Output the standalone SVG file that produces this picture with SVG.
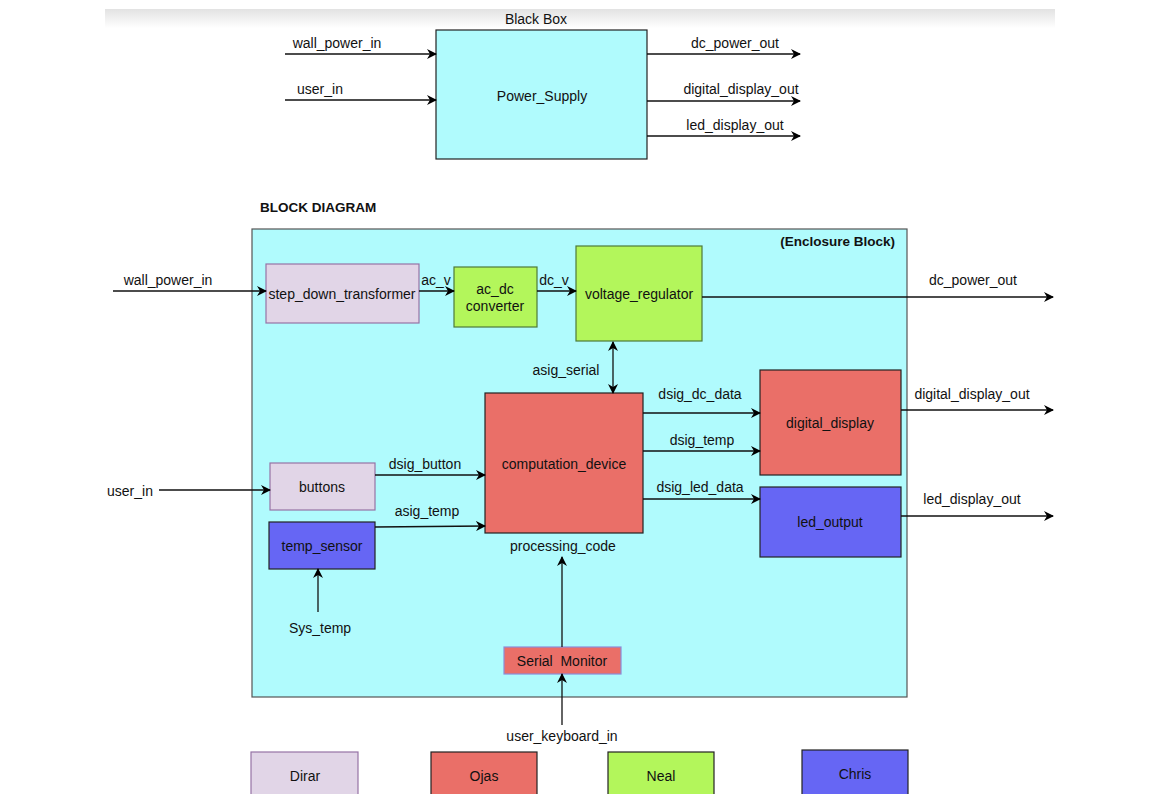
<svg xmlns="http://www.w3.org/2000/svg" width="1152" height="794" viewBox="0 0 1152 794">
<defs>
<linearGradient id="band" x1="0" y1="0" x2="0" y2="1">
<stop offset="0" stop-color="#e2e2e2"/>
<stop offset="1" stop-color="#ffffff"/>
</linearGradient>
<marker id="arr" viewBox="0 0 10 10" refX="9" refY="5" markerWidth="10" markerHeight="10" markerUnits="userSpaceOnUse" orient="auto-start-reverse">
<path d="M0,0 L10,5 L0,10 L3,5 z" fill="#000"/>
</marker>
<style>
text{font-family:"Liberation Sans",Arial,sans-serif;font-size:14px;fill:#111;}
.c{text-anchor:middle;}
.b{font-weight:bold;font-size:13.5px;}
.ln{stroke:#111;stroke-width:1.3;fill:none;}
.a{marker-end:url(#arr);}
.purple{fill:#e1d5e7;stroke:#9673a6;stroke-width:1.2;}
.green{fill:#b3f65b;stroke:#4d7a3a;stroke-width:1.2;}
.red{fill:#ea6f68;stroke:#222;stroke-width:1.2;}
.blue{fill:#6666f4;stroke:#222;stroke-width:1.2;}
</style>
</defs>
<rect width="1152" height="794" fill="#fff"/>
<rect x="105" y="9" width="950" height="19" fill="url(#band)"/>

<g id="black-box">
<rect x="436" y="30" width="211" height="129" fill="#b0fbfd" stroke="#222" stroke-width="1.2"/>
<text class="c" x="536" y="24">Black Box</text>
<text class="c" x="542" y="101">Power_Supply</text>
</g>

<g id="enclosure">
<rect x="252" y="229" width="655" height="468" fill="#b0fbfd" stroke="#555" stroke-width="1.2"/>
<text class="b" x="895" y="246" text-anchor="end">(Enclosure Block)</text>
</g>
<text class="b" x="260" y="212">BLOCK DIAGRAM</text>

<g id="step_down_transformer">
<rect class="purple" x="266" y="264" width="153" height="59"/>
<text class="c" x="342" y="299">step_down_transformer</text>
</g>
<g id="ac_dc_converter">
<rect class="green" x="454" y="267" width="83" height="60"/>
<text class="c" x="495" y="294">ac_dc</text>
<text class="c" x="495" y="311">converter</text>
</g>
<g id="voltage_regulator">
<rect class="green" x="576" y="246" width="126" height="95"/>
<text class="c" x="639" y="299">voltage_regulator</text>
</g>
<g id="computation_device">
<rect class="red" x="485" y="393" width="158" height="140"/>
<text class="c" x="564" y="469">computation_device</text>
</g>
<g id="digital_display">
<rect class="red" x="760" y="370" width="141" height="105"/>
<text class="c" x="830" y="428">digital_display</text>
</g>
<g id="led_output">
<rect class="blue" x="760" y="487" width="141" height="70"/>
<text class="c" x="830" y="527">led_output</text>
</g>
<g id="buttons">
<rect class="purple" x="270" y="463" width="105" height="47"/>
<text class="c" x="322" y="492">buttons</text>
</g>
<g id="temp_sensor">
<rect class="blue" x="269" y="522" width="106" height="47"/>
<text class="c" x="322" y="551">temp_sensor</text>
</g>
<g id="serial_monitor">
<rect x="504" y="647" width="117" height="27" fill="#ea6f68" stroke="#8c8cd8" stroke-width="1.2"/>
<text class="c" x="562" y="666" style="white-space:pre">Serial  Monitor</text>
</g>

<g id="legend-dirar">
<rect class="purple" x="251" y="752" width="107" height="50"/>
<text class="c" x="305" y="781">Dirar</text>
</g>
<g id="legend-ojas">
<rect class="red" x="431" y="752" width="106" height="50"/>
<text class="c" x="484" y="781">Ojas</text>
</g>
<g id="legend-neal">
<rect fill="#b3f65b" stroke="#222" stroke-width="1.2" x="608" y="752" width="106" height="50"/>
<text class="c" x="661" y="781">Neal</text>
</g>
<g id="legend-chris">
<rect class="blue" x="802" y="750" width="106" height="52"/>
<text class="c" x="855" y="779">Chris</text>
</g>

<g id="connectors">
<line class="ln a" x1="285" y1="54" x2="436" y2="54"/>
<line class="ln a" x1="285" y1="100" x2="436" y2="100"/>
<line class="ln a" x1="647" y1="54" x2="800" y2="54"/>
<line class="ln a" x1="647" y1="101" x2="800" y2="101"/>
<line class="ln a" x1="647" y1="136" x2="800" y2="136"/>

<line class="ln a" x1="113" y1="291" x2="266" y2="291"/>
<line class="ln a" x1="419" y1="291" x2="454" y2="291"/>
<line class="ln a" x1="537" y1="291" x2="576" y2="291"/>
<line class="ln a" x1="702" y1="297" x2="1053" y2="297"/>
<line class="ln a" x1="613" y1="342" x2="613" y2="393" style="marker-start:url(#arr)"/>
<line class="ln a" x1="643" y1="413" x2="760" y2="413"/>
<line class="ln a" x1="643" y1="451" x2="760" y2="451"/>
<line class="ln a" x1="643" y1="499" x2="760" y2="499"/>
<line class="ln a" x1="901" y1="410" x2="1053" y2="410"/>
<line class="ln a" x1="901" y1="516" x2="1053" y2="516"/>
<line class="ln a" x1="159" y1="490" x2="270" y2="490"/>
<line class="ln a" x1="375" y1="475" x2="485" y2="475"/>
<line class="ln a" x1="375" y1="527" x2="485" y2="526"/>
<line class="ln a" x1="318" y1="612" x2="318" y2="569"/>
<line class="ln a" x1="562" y1="647" x2="562" y2="557"/>
<line class="ln a" x1="562" y1="725" x2="562" y2="674"/>
</g>

<g id="labels">
<text class="c" x="337" y="48">wall_power_in</text>
<text class="c" x="320" y="94">user_in</text>
<text class="c" x="735" y="48">dc_power_out</text>
<text class="c" x="741" y="94">digital_display_out</text>
<text class="c" x="735" y="130">led_display_out</text>
<text class="c" x="168" y="285">wall_power_in</text>
<text class="c" x="436" y="285">ac_v</text>
<text class="c" x="554" y="285">dc_v</text>
<text class="c" x="973" y="285">dc_power_out</text>
<text class="c" x="566" y="375">asig_serial</text>
<text class="c" x="700" y="399">dsig_dc_data</text>
<text class="c" x="702" y="445">dsig_temp</text>
<text class="c" x="700" y="492">dsig_led_data</text>
<text class="c" x="972" y="399">digital_display_out</text>
<text class="c" x="972" y="504">led_display_out</text>
<text class="c" x="130" y="496">user_in</text>
<text class="c" x="425" y="469">dsig_button</text>
<text class="c" x="427" y="516">asig_temp</text>
<text class="c" x="563" y="551">processing_code</text>
<text class="c" x="320" y="633">Sys_temp</text>
<text class="c" x="562" y="741">user_keyboard_in</text>
</g>
</svg>
